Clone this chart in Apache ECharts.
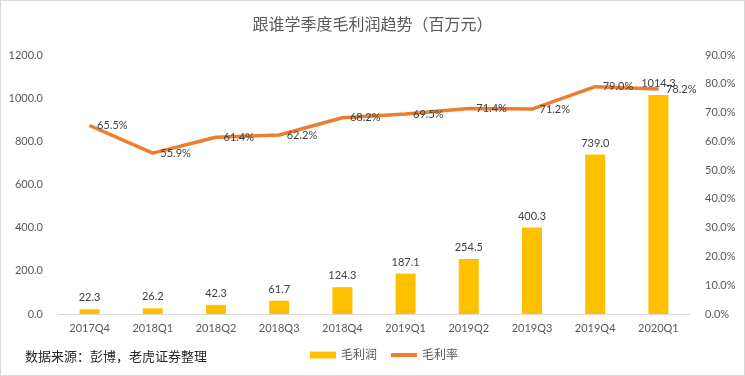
<!DOCTYPE html>
<html>
<head>
<meta charset="utf-8">
<script src="https://cdn.jsdelivr.net/npm/echarts@6/dist/echarts.min.js"></script>
<style>
  html, body { margin: 0; padding: 0; background: #fff; }
  #chart { width: 743px; height: 374px; border: 1px solid #d9d9d9; }
</style>
</head>
<body>
<div id="chart"></div>
<script>
// 数据
const categories = ['2017Q4', '2018Q1', '2018Q2', '2018Q3', '2018Q4', '2019Q1', '2019Q2', '2019Q3', '2019Q4', '2020Q1'];
const grossProfit = [22.3, 26.2, 42.3, 61.7, 124.3, 187.1, 254.5, 400.3, 739.0, 1014.3];
const grossMargin = [65.5, 55.9, 61.4, 62.2, 68.2, 69.5, 71.4, 71.2, 79.0, 78.2];

const font = 'Lato, "Noto Sans CJK SC", sans-serif';
const chart = echarts.init(document.getElementById('chart'));

chart.setOption({
    animation: false,
    textStyle: { fontFamily: font },
    title: {
        text: '跟谁学季度毛利润趋势（百万元）',
        left: 'center',
        top: 11,
        textStyle: { color: '#595959', fontSize: 16, fontWeight: 'normal', fontFamily: font }
    },
    graphic: [{
        type: 'text',
        left: 24,
        top: 349,
        style: { text: '数据来源：彭博，老虎证券整理', fill: '#262626', fontSize: 13, fontFamily: font }
    }],
    legend: {
        bottom: 9,
        left: 304,
        itemWidth: 26,
        itemHeight: 7,
        itemGap: 14,
        textStyle: { color: '#595959', fontSize: 12, fontFamily: font },
        data: [
            { name: '毛利润', icon: 'rect' },
            { name: '毛利率', icon: 'path://M0,0H26V4H0Z', itemStyle: { color: '#ED7D31' } }
        ]
    },
    grid: { left: 57, right: 54, top: 54, bottom: 61 },
    xAxis: {
        type: 'category',
        data: categories,
        axisLine: { lineStyle: { color: '#d9d9d9' } },
        axisTick: { show: false },
        axisLabel: { color: '#595959', fontSize: 11, margin: 9 }
    },
    yAxis: [{
        type: 'value',
        min: 0, max: 1200, interval: 200,
        splitLine: { show: false },
        axisLine: { show: false },
        axisTick: { show: false },
        axisLabel: { color: '#595959', fontSize: 11, margin: 15, formatter: v => v.toFixed(1) }
    }, {
        type: 'value',
        min: 0, max: 90, interval: 10,
        splitLine: { show: false },
        axisLine: { show: false },
        axisTick: { show: false },
        axisLabel: { color: '#595959', fontSize: 11, margin: 15, formatter: v => v.toFixed(1) + '%' }
    }],
    series: [{
        name: '毛利润',
        type: 'bar',
        data: grossProfit,
        barWidth: 20,
        itemStyle: { color: '#FFC000' },
        label: {
            show: true, position: 'top', distance: 6,
            color: '#404040', fontSize: 11,
            formatter: p => p.value.toFixed(1)
        }
    }, {
        name: '毛利率',
        type: 'line',
        yAxisIndex: 1,
        data: grossMargin,
        symbol: 'circle',
        symbolSize: 1,
        showSymbol: true,
        lineStyle: { color: '#ED7D31', width: 3.5 },
        itemStyle: { color: '#ED7D31' },
        label: {
            show: true, position: 'right', distance: 7,
            color: '#404040', fontSize: 11,
            formatter: p => p.value.toFixed(1) + '%'
        }
    }]
});
</script>
</body>
</html>
